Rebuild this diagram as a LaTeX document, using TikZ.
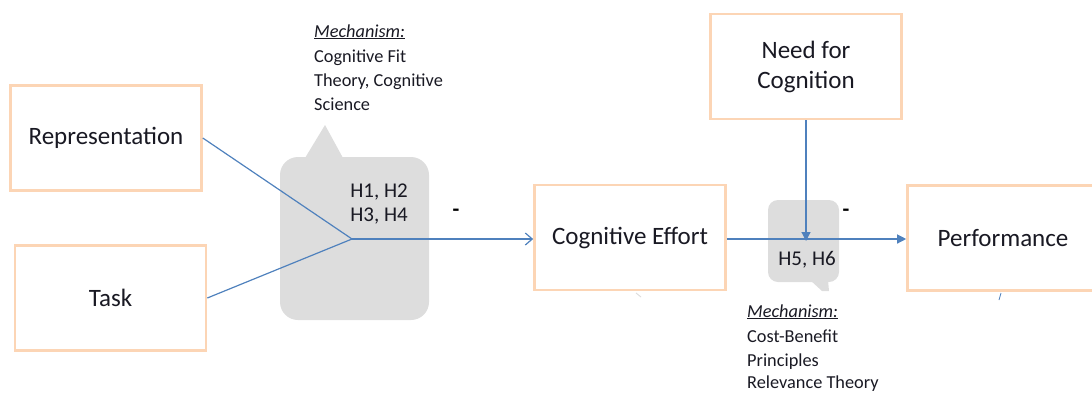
\documentclass[tikz,border=0pt]{standalone}
\usepackage{fontspec}
\setmainfont{Carlito}
\usetikzlibrary{arrows.meta}
\definecolor{peach}{RGB}{252,213,181}
\definecolor{conn}{RGB}{79,129,189}
\definecolor{bubble}{RGB}{221,221,221}
\definecolor{txt}{RGB}{25,25,35}
\begin{document}
\begin{tikzpicture}[x=1pt,y=-1pt,
  box/.style={draw=peach,line width=2.6pt,fill=white,text=txt,
    font=\fontsize{25}{30}\selectfont,align=center,inner sep=0pt,
    minimum width=191pt,minimum height=105pt},
  mech/.style={anchor=base west,inner sep=0pt,text=txt,font=\fontsize{18.3}{24}\selectfont},
  hyp/.style={anchor=base,inner sep=0pt,text=txt,font=\fontsize{21}{24}\selectfont},
  sign/.style={inner sep=0pt,text=black,font=\fontsize{22}{24}\selectfont\bfseries},
  conline/.style={draw=conn,line width=1.2pt},
  bubbleshape/.style={fill=bubble,draw=none},
]
\useasboundingbox (0,0) rectangle (1092,392);
\clip (0,0) rectangle (1092,392);

% callout bubbles
\fill[bubbleshape,rounded corners=18pt] (280,157) rectangle (429,320);
\fill[bubbleshape] (305,158) -- (325,125) -- (343,158) -- cycle;
\fill[bubbleshape,rounded corners=10pt] (768,200) rectangle (839,282);
\fill[bubbleshape] (810,280) -- (828,280) -- (829,291) -- (822,291) -- cycle;

% boxes
\node[box] (rep) at (106,138) {Representation};
\node[box] (task) at (110.5,298) {Task};
\node[box] (ce) at (630,237.5) {Cognitive Effort};
\node[box] (perf) at (1003,238) {Performance};
\node[box] (nfc) at (806,66.5) {Need for\\Cognition};

% connectors
\coordinate (J) at (352,239);
\coordinate (M) at (806,239);
\draw[conline] (rep.east) -- (J);
\draw[conline] (task.east) -- (J);
\draw[conline,-{Straight Barb[length=7pt,width=12pt,line width=1.2pt]}] (J) -- (J -| ce.west);
\draw[conline,-{Triangle[length=9pt,width=9pt]}] (ce.east |- M) -- (M -| perf.west);
\draw[conline,-{Triangle[length=9pt,width=9pt]}] (nfc.south) -- ([yshift=-2pt]M);

% hypothesis labels
\node[hyp] (h12) at (379,197) {H1, H2};
\node[hyp] (h34) at (379,221) {H3, H4};
\node[hyp] (h56) at (807,265) {H5, H6};
\node[sign] (s1) at (456,213) {-};
\node[sign] (s2) at (846,213) {-};

% mechanism 1
\node[mech] (m1a) at (314,37) {\underline{\textit{Mechanism:}}};
\node[mech] (m1b) at (314,62) {Cognitive Fit};
\node[mech] (m1c) at (314,86) {Theory, Cognitive};
\node[mech] (m1d) at (314,110) {Science};

% mechanism 2
\node[mech] (m2a) at (747,317) {\underline{\textit{Mechanism:}}};
\node[mech] (m2b) at (747,342) {Cost-Benefit};
\node[mech] (m2c) at (747,366) {Principles};
\begin{scope}
\clip (740,370) rectangle (882,392);
\node[mech] (m2d) at (747,388) {Relevance Theory};
\end{scope}

% tiny marks below boxes
\draw[bubble,line width=1pt] (636,293) -- (641,297);
\draw[conn,line width=0.8pt] (1001,293) -- (999,300);
\end{tikzpicture}
\end{document}
